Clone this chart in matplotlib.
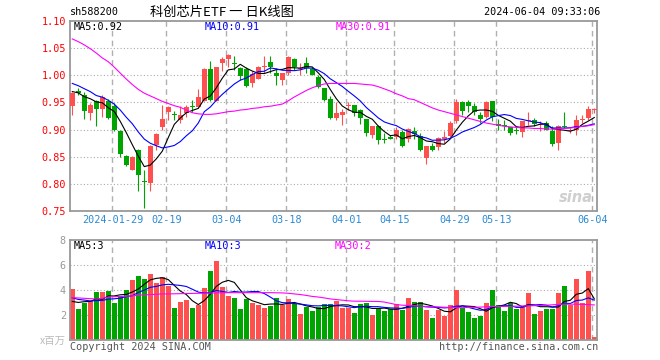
#!/usr/bin/env python
#
# Daily K-line chart of sh588200 with a volume panel underneath
#

import numpy as np
import pandas as pd
import matplotlib
matplotlib.use("Agg")
import matplotlib.pyplot as plt

# market closed on these weekdays (Spring Festival, Qingming, Labour Day)
HOLIDAYS = ["2024-02-09", "2024-02-12", "2024-02-13", "2024-02-14", "2024-02-15",
            "2024-02-16", "2024-04-04", "2024-04-05", "2024-05-01", "2024-05-02",
            "2024-05-03"]
TICK_DATES = ["2024-01-29", "2024-02-19", "2024-03-04", "2024-03-18", "2024-04-01",
              "2024-04-15", "2024-04-29", "2024-05-13", "2024-06-04"]

OPEN = [0.944, 0.971, 0.964, 0.931, 0.952, 0.938, 0.952, 0.944, 0.898, 0.851,
        0.826, 0.863, 0.806, 0.801, 0.871, 0.904, 0.933, 0.929, 0.918, 0.930,
        0.943, 0.941, 0.952, 1.012, 0.952, 1.022, 1.030, 1.021, 1.013, 1.011,
        0.985, 0.993, 1.016, 1.025, 1.004, 0.991, 1.004, 1.030, 1.012, 1.023,
        1.011, 0.996, 0.976, 0.957, 0.921, 0.927, 0.943, 0.946, 0.936, 0.919,
        0.890, 0.907, 0.882, 0.887, 0.886, 0.895, 0.882, 0.898, 0.889, 0.848,
        0.869, 0.868, 0.882, 0.889, 0.915, 0.950, 0.950, 0.944, 0.927, 0.923,
        0.952, 0.911, 0.909, 0.904, 0.900, 0.895, 0.915, 0.918, 0.908, 0.912,
        0.898, 0.875, 0.907, 0.898, 0.900, 0.918, 0.921, 0.936]
HIGH = [0.970, 0.977, 0.970, 0.949, 0.955, 0.964, 0.957, 0.949, 0.900, 0.854,
        0.852, 0.864, 0.826, 0.872, 0.894, 0.946, 0.944, 0.935, 0.944, 0.946,
        0.955, 0.975, 1.013, 1.026, 1.016, 1.033, 1.040, 1.036, 1.016, 1.016,
        1.007, 1.017, 1.036, 1.036, 1.014, 1.005, 1.035, 1.032, 1.022, 1.034,
        1.016, 1.001, 0.976, 0.961, 0.950, 0.937, 0.950, 0.946, 0.938, 0.919,
        0.906, 0.909, 0.893, 0.890, 0.904, 0.900, 0.903, 0.905, 0.893, 0.869,
        0.875, 0.887, 0.897, 0.915, 0.957, 0.952, 0.955, 0.949, 0.933, 0.952,
        0.953, 0.919, 0.918, 0.904, 0.907, 0.916, 0.933, 0.921, 0.915, 0.915,
        0.907, 0.909, 0.932, 0.902, 0.927, 0.927, 0.943, 0.940]
LOW = [0.927, 0.964, 0.920, 0.918, 0.906, 0.924, 0.919, 0.898, 0.850, 0.832,
       0.825, 0.786, 0.756, 0.786, 0.862, 0.899, 0.918, 0.917, 0.912, 0.924,
       0.933, 0.941, 0.952, 0.952, 0.952, 1.007, 1.016, 1.010, 0.992, 0.979,
       0.979, 0.993, 1.004, 1.004, 0.983, 0.983, 1.001, 1.010, 1.001, 1.004,
       1.001, 0.976, 0.952, 0.919, 0.918, 0.909, 0.936, 0.925, 0.911, 0.889,
       0.884, 0.874, 0.875, 0.882, 0.882, 0.868, 0.878, 0.883, 0.861, 0.836,
       0.861, 0.863, 0.875, 0.887, 0.912, 0.927, 0.933, 0.927, 0.912, 0.921,
       0.915, 0.900, 0.899, 0.890, 0.892, 0.887, 0.909, 0.907, 0.897, 0.900,
       0.870, 0.862, 0.903, 0.893, 0.890, 0.912, 0.918, 0.931]
CLOSE = [0.968, 0.968, 0.935, 0.946, 0.938, 0.960, 0.922, 0.900, 0.855, 0.835,
         0.849, 0.816, 0.804, 0.869, 0.892, 0.920, 0.941, 0.926, 0.927, 0.941,
         0.941, 0.960, 1.012, 0.955, 1.016, 1.030, 1.037, 1.020, 0.998, 0.981,
         1.003, 1.016, 1.018, 1.016, 0.999, 1.005, 1.033, 1.016, 1.013, 1.014,
         1.001, 0.978, 0.955, 0.921, 0.930, 0.933, 0.944, 0.931, 0.921, 0.893,
         0.906, 0.881, 0.881, 0.883, 0.900, 0.870, 0.901, 0.892, 0.863, 0.869,
         0.863, 0.884, 0.886, 0.912, 0.950, 0.935, 0.943, 0.933, 0.919, 0.950,
         0.923, 0.906, 0.906, 0.893, 0.898, 0.916, 0.917, 0.910, 0.909, 0.900,
         0.874, 0.907, 0.904, 0.900, 0.918, 0.919, 0.937, 0.937]
# volume in millions
VOLUME = [4.10, 2.50, 3.00, 3.10, 3.85, 3.85, 3.90, 3.00, 3.55, 4.00,
          4.80, 5.10, 4.90, 5.30, 4.60, 5.05, 4.35, 2.60, 3.05, 3.20,
          2.60, 2.80, 4.20, 5.55, 6.35, 4.25, 3.55, 3.40, 2.50, 3.30,
          3.00, 2.80, 2.60, 2.75, 3.35, 2.80, 3.30, 2.90, 2.10, 2.65,
          2.35, 2.65, 2.90, 2.90, 3.10, 2.60, 2.60, 2.20, 2.90, 3.00,
          2.00, 2.60, 2.35, 2.50, 2.90, 2.40, 3.40, 3.05, 3.05, 2.40,
          1.80, 2.40, 1.95, 2.80, 4.00, 2.60, 2.25, 1.80, 1.95, 3.00,
          4.00, 2.80, 2.35, 3.00, 2.50, 2.65, 3.80, 2.10, 2.35, 2.50,
          2.50, 3.80, 4.35, 2.80, 4.90, 3.00, 5.55, 0.27]

# days just before the window, estimated from where the MA5/MA10 lines start
PRE_CLOSE = [1.010, 0.990, 1.000, 1.010, 0.990, 0.980, 0.970, 0.965, 0.967]
PRE_VOLUME = [3.9, 3.5, 3.8, 3.6, 3.7, 2.9, 2.7, 3.0, 2.8]

# MA30 lines (they need a month of earlier data)
MA30_PRICE = [1.067, 1.062, 1.056, 1.049, 1.041, 1.032, 1.025, 1.015, 1.004, 0.993,
              0.983, 0.974, 0.967, 0.962, 0.957, 0.952, 0.948, 0.944, 0.941, 0.936,
              0.931, 0.929, 0.928, 0.928, 0.929, 0.931, 0.933, 0.934, 0.936, 0.937,
              0.939, 0.940, 0.942, 0.943, 0.945, 0.947, 0.953, 0.960, 0.966, 0.972,
              0.977, 0.981, 0.984, 0.985, 0.985, 0.985, 0.985, 0.985, 0.984, 0.983,
              0.982, 0.979, 0.975, 0.971, 0.966, 0.962, 0.957, 0.955, 0.950, 0.945,
              0.940, 0.936, 0.933, 0.930, 0.927, 0.924, 0.921, 0.918, 0.915, 0.912,
              0.910, 0.908, 0.906, 0.905, 0.904, 0.903, 0.903, 0.902, 0.902, 0.901,
              0.901, 0.901, 0.902, 0.903, 0.904, 0.906, 0.907, 0.909]
MA30_VOLUME = [3.40, 3.38, 3.35, 3.32, 3.30, 3.35, 3.45, 3.48, 3.50, 3.52,
               3.55, 3.60, 3.62, 3.65, 3.67, 3.70, 3.70, 3.71, 3.72, 3.73,
               3.74, 3.75, 3.76, 3.77, 3.78, 3.79, 3.80, 3.80, 3.80, 3.80,
               3.80, 3.80, 3.80, 3.80, 3.79, 3.78, 3.75, 3.70, 3.65, 3.58,
               3.50, 3.45, 3.38, 3.30, 3.25, 3.20, 3.15, 3.12, 3.12, 3.11,
               3.10, 3.10, 3.05, 2.95, 2.85, 2.80, 2.78, 2.75, 2.72, 2.70,
               2.68, 2.66, 2.64, 2.62, 2.60, 2.60, 2.62, 2.63, 2.65, 2.67,
               2.70, 2.70, 2.70, 2.72, 2.72, 2.74, 2.75, 2.76, 2.78, 2.80,
               2.83, 2.86, 2.88, 2.88, 2.88, 2.86, 2.85, 2.82]

RED = "#ff5050"
GREEN = "#00a400"
FRAME = "#999999"
MONO = "DejaVu Sans Mono"
W, H = 660, 360


def px(x, y):
  # pixel position on the 660x360 canvas -> figure fraction
  return x / W, 1 - y / H


def style_panel(ax):
  for s in ax.spines.values():
    s.set_color(FRAME)
    s.set_linewidth(1.3)
  ax.tick_params(length=0)
  ax.set_facecolor("white")


def main():
  dates = [d.strftime("%Y-%m-%d") for d in pd.bdate_range("2024-01-18", "2024-06-04")]
  dates = [d for d in dates if d not in HOLIDAYS]
  n = len(CLOSE)
  idx = np.arange(n)

  o = np.array(OPEN); c = np.array(CLOSE)
  h = np.array(HIGH); l = np.array(LOW)
  up = c >= o
  cols = np.where(up, RED, GREEN)

  closes = pd.Series(PRE_CLOSE + CLOSE)
  ma5 = closes.rolling(5).mean().values[len(PRE_CLOSE):]
  ma10 = closes.rolling(10).mean().values[len(PRE_CLOSE):]
  vols = pd.Series(PRE_VOLUME + VOLUME)
  vma5 = vols.rolling(5).mean().values[len(PRE_VOLUME):]
  vma10 = vols.rolling(10).mean().values[len(PRE_VOLUME):]

  tick_pos = [dates.index(d) - 0.3 for d in TICK_DATES]
  tick_lab = [TICK_DATES[0]] + [d[5:] for d in TICK_DATES[1:]]

  fig = plt.figure(figsize=(W / 100, H / 100), dpi=100)

  # ---- price panel
  ax = fig.add_axes([70 / W, 1 - 211 / H, 527 / W, 190 / H])
  style_panel(ax)
  ax.set_xlim(-0.38, n - 0.55)
  ax.set_ylim(0.75, 1.10)
  yt = np.round(np.arange(0.75, 1.101, 0.05), 2)
  ax.set_yticks(yt)
  ax.set_yticklabels(["%.2f" % v for v in yt], color="red", fontsize=7.3, family=MONO)
  for v in yt[1:-1]:
    ax.axhline(v, color="#aaaaaa", lw=0.8, ls=(0, (1, 2)), zorder=0)
  for p in tick_pos:
    ax.axvline(p, color="#b0b0b0", lw=1.0, ls=(0, (4, 3)), zorder=0)
  ax.set_xticks(tick_pos)
  ax.set_xticklabels(tick_lab, color="#2a8ad4", fontsize=7.3, family=MONO)
  ax.tick_params(axis="x", pad=3)
  ax.tick_params(axis="y", pad=3)

  ax.vlines(idx, l, h, colors=cols, lw=0.8, zorder=2)
  body = np.maximum(np.abs(c - o), 0.0018)
  ax.bar(idx, body, bottom=np.minimum(o, c), width=0.8, color=cols, lw=0, zorder=3)

  ax.plot(idx, ma5, color="black", lw=0.8, zorder=4)
  ax.plot(idx, ma10, color="#0000ff", lw=0.8, zorder=4)
  ax.plot(idx, MA30_PRICE, color="#ff00ff", lw=0.8, zorder=4)

  fig.text(*px(74, 27), "MA5:%.2f" % ma5[-1], color="black", fontsize=7.3,
           family=MONO, va="center")
  fig.text(*px(205, 27), "MA10:%.2f" % ma10[-1], color="#0000ff", fontsize=7.3,
           family=MONO, va="center")
  fig.text(*px(336, 27), "MA30:%.2f" % MA30_PRICE[-1], color="#ff00ff", fontsize=7.3,
           family=MONO, va="center")
  # sina watermark
  fig.text(*px(576, 197), "sina", color="#cfcfcf", fontsize=10.5, style="italic",
           weight="bold", ha="center", va="center")

  # ---- volume panel
  av = fig.add_axes([70 / W, 1 - 340.3 / H, 527 / W, 100.3 / H])
  style_panel(av)
  av.set_xlim(-0.38, n - 0.55)
  av.set_ylim(0, 8)
  av.set_yticks([2, 4, 6, 8])
  av.set_yticklabels(["2", "4", "6", "8"], color="#9a9a9a", fontsize=7.3, family=MONO)
  av.tick_params(axis="y", pad=3)
  av.set_xticks([])
  for v in [2, 4, 6]:
    av.axhline(v, color="#aaaaaa", lw=0.8, ls=(0, (1, 2)), zorder=0)
  for p in tick_pos:
    av.axvline(p, color="#b0b0b0", lw=1.0, ls=(0, (4, 3)), zorder=0)
  av.bar(idx, VOLUME, width=0.8, color=cols, lw=0, zorder=2)
  av.plot(idx, vma5, color="black", lw=0.8, zorder=4)
  av.plot(idx, vma10, color="#0000ff", lw=0.8, zorder=4)
  av.plot(idx, MA30_VOLUME, color="#ff00ff", lw=0.8, zorder=4)

  fig.text(*px(74, 246), "MA5:%d" % int(vma5[-1]), color="black", fontsize=7.3,
           family=MONO, va="center")
  fig.text(*px(205, 246), "MA10:%d" % int(vma10[-1]), color="#0000ff", fontsize=7.3,
           family=MONO, va="center")
  fig.text(*px(335, 246), "MA30:%d" % int(MA30_VOLUME[-1]), color="#ff00ff", fontsize=7.3,
           family=MONO, va="center")

  # ---- header / footer texts
  fig.text(*px(70, 12), "sh588200", fontsize=7.3, family=MONO, va="center")
  fig.text(*px(150, 12), "科创芯片ETF 一 日K线图", fontsize=9.5,
           family=["Noto Sans CJK SC", "DejaVu Sans"], va="center")
  fig.text(*px(600, 12), "2024-06-04 09:33:06", fontsize=7.3, family=MONO,
           va="center", ha="right")
  fig.text(*px(66, 341), "x百万", fontsize=7.5, color="#bbbbbb",
           family=["Noto Sans CJK SC", "DejaVu Sans"], va="center", ha="right")
  fig.text(*px(70, 347), "Copyright 2024 SINA.COM", fontsize=7.3, color="#555555",
           family=MONO, va="center")
  fig.text(*px(598, 347), "http://finance.sina.com.cn", fontsize=7.3, color="#555555",
           family=MONO, va="center", ha="right")

  fig.savefig("out.png", dpi=100, facecolor="white")


if __name__ == "__main__":
  main()
